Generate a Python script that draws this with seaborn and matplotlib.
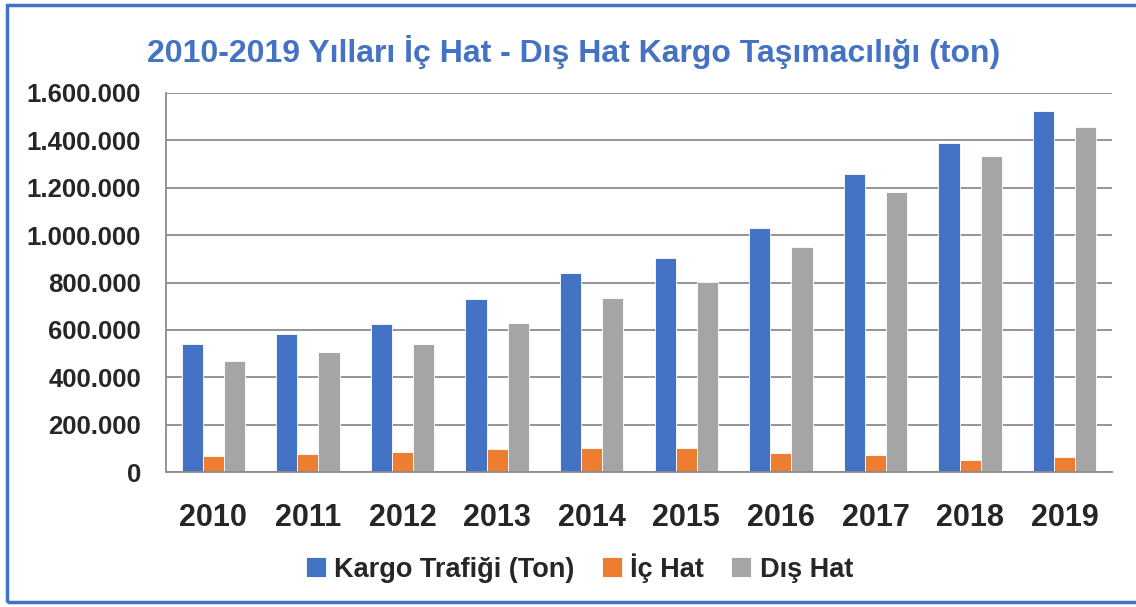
import matplotlib
matplotlib.use("Agg")
import matplotlib.pyplot as plt
import matplotlib.patches as mpatches
import numpy as np
import pandas as pd
import seaborn as sns

# Veriler ---------------------------------------------------------------
yillar = ["2010", "2011", "2012", "2013", "2014", "2015", "2016", "2017", "2018", "2019"]
kargo_trafigi = [540000, 583000, 624000, 731000, 841000, 903000, 1032000, 1256000, 1390000, 1522000]
ic_hat = [69000, 76000, 83000, 99000, 103000, 100000, 79000, 73000, 52000, 63000]
dis_hat = [469000, 507000, 539000, 630000, 735000, 801000, 951000, 1180000, 1336000, 1456000]
seriler = ["Kargo Trafiği (Ton)", "İç Hat", "Dış Hat"]
renkler = ["#4472C4", "#ED7D31", "#A5A5A5"]
y_ticks = [0, 200000, 400000, 600000, 800000, 1000000, 1200000, 1400000, 1600000]

df = pd.DataFrame({
    "Yıl": yillar * 3,
    "Seri": [seriler[0]] * 10 + [seriler[1]] * 10 + [seriler[2]] * 10,
    "Ton": kargo_trafigi + ic_hat + dis_hat,
})

sns.set_style("white")
plt.rcParams["font.family"] = ["Liberation Sans", "DejaVu Sans"]

fig = plt.figure(figsize=(11.36, 6.07), dpi=100)
ax = fig.add_axes([166 / 1136, 1 - 472 / 607, (1112 - 166) / 1136, (472 - 93) / 607])

sns.barplot(data=df, x="Yıl", y="Ton", hue="Seri", palette=renkler,
            width=0.67, gap=0, saturation=1, ax=ax, legend=True,
            edgecolor="white", linewidth=0.6)

ax.set_xlim(-0.5, 9.5)
ax.set_ylim(0, 1600000)
ax.set_yticks(y_ticks)
ax.set_yticklabels([f"{v:,}".replace(",", ".") for v in y_ticks],
                   fontsize=18.5, fontweight="bold")
ax.set_xticks(range(len(yillar)))
ax.set_xticklabels(yillar, fontsize=22, fontweight="bold")
ax.set_xticks(np.arange(-0.5, 10, 1), minor=True)
ax.tick_params(axis="x", which="major", length=0, pad=22)
ax.tick_params(axis="x", which="minor", length=6, color="#8C8C8C", direction="out")
ax.tick_params(axis="y", length=6, color="#8C8C8C", direction="out", pad=12)
ax.set_xlabel("")
ax.set_ylabel("")

ax.grid(axis="y", color="#8C8C8C", linewidth=1.3)
ax.set_axisbelow(True)
for s in ["top", "right"]:
    ax.spines[s].set_visible(False)
for s in ["left", "bottom"]:
    ax.spines[s].set_color("#8C8C8C")
    ax.spines[s].set_linewidth(1.3)

# Legend
handles, labels = ax.get_legend_handles_labels()
ax.get_legend().remove()
fig.legend(handles, labels, loc="center", bbox_to_anchor=(0.51, 1 - 568 / 607),
           ncol=3, frameon=False, prop={"size": 19.5, "weight": "bold"},
           handlelength=0.75, handleheight=0.75, handletextpad=0.3, columnspacing=1.0)

# Başlık
fig.text(0.505, 1 - 52 / 607, "2010-2019 Yılları İç Hat - Dış Hat Kargo Taşımacılığı (ton)",
         ha="center", va="center", fontsize=23, fontweight="bold", color="#4472C4")

# Çerçeve
fig.patches.append(mpatches.Rectangle((7 / 1136, 5 / 607), 1.2, 1 - 10 / 607,
                                      transform=fig.transFigure, fill=False,
                                      edgecolor="#4472C4", linewidth=2.5))

fig.savefig("out.png", dpi=100)
